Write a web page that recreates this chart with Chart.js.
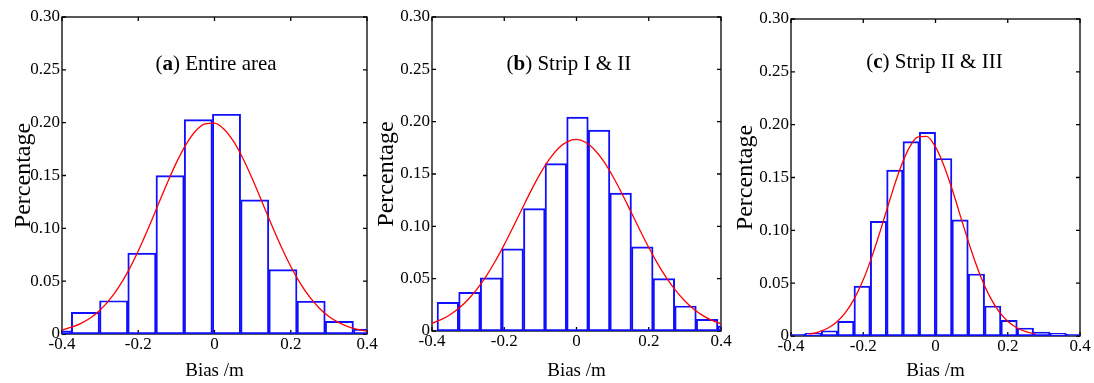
<!DOCTYPE html>
<html>
<head>
<meta charset="utf-8">
<script src="https://cdn.jsdelivr.net/npm/chart.js@4.4.0/dist/chart.umd.min.js"></script>
<style>
  html, body { margin: 0; padding: 0; background: #fff; overflow: hidden; }
  body { width: 1094px; height: 383px; position: relative; }
  .panel { position: absolute; top: 0; }
  canvas { display: block; }
</style>
</head>
<body>
<div class="panel"><canvas id="chart-a"></canvas></div>
<div class="panel"><canvas id="chart-b"></canvas></div>
<div class="panel"><canvas id="chart-c"></canvas></div>
<script>
// Ejes comunes
const xTickValues = [-0.4, -0.2, 0, 0.2, 0.4];
const xTickLabels = ['-0.4', '-0.2', '0', '0.2', '0.4'];
const yTickValues = [0, 0.05, 0.10, 0.15, 0.20, 0.25, 0.30];
const yTickLabels = ['0', '0.05', '0.10', '0.15', '0.20', '0.25', '0.30'];

// (a) Entire area
const binStartA = -0.4495;
const binWidthA = 0.0740;
const heightsA = [0.003, 0.0205, 0.0315, 0.0765, 0.150, 0.203, 0.208, 0.127, 0.061, 0.031, 0.012, 0.0047];
const curveXA = [-0.4, -0.375, -0.35, -0.325, -0.3, -0.275, -0.25, -0.225, -0.2, -0.175, -0.15, -0.125, -0.1, -0.075, -0.05, -0.025, 0,
                 0.025, 0.05, 0.075, 0.1, 0.125, 0.15, 0.175, 0.2, 0.225, 0.25, 0.275, 0.3, 0.325, 0.35, 0.375, 0.4];
const curveYA = [0.0039, 0.0064, 0.0100, 0.0153, 0.0227, 0.0325, 0.0450, 0.0605, 0.0786, 0.0989, 0.1204, 0.1420, 0.1622, 0.1793, 0.1919, 0.1988, 0.1995,
                 0.1938, 0.1822, 0.1659, 0.1462, 0.1248, 0.1031, 0.0825, 0.0639, 0.0479, 0.0348, 0.0244, 0.0166, 0.0110, 0.0070, 0.0043, 0.0026];

// (b) Strip I & II
const binStartB = -0.386;
const binWidthB = 0.0598;
const heightsB = [0.0274, 0.037, 0.0507, 0.0784, 0.117, 0.160, 0.2043, 0.192, 0.1317, 0.0803, 0.050, 0.0239, 0.0112, 0.005];
const curveXB = [-0.4, -0.375, -0.35, -0.325, -0.3, -0.275, -0.25, -0.225, -0.2, -0.175, -0.15, -0.125, -0.1, -0.075, -0.05, -0.025, 0,
                 0.025, 0.05, 0.075, 0.1, 0.125, 0.15, 0.175, 0.2, 0.225, 0.25, 0.275, 0.3, 0.325, 0.35, 0.375, 0.4];
const curveYB = [0.0073, 0.0108, 0.0156, 0.0219, 0.0301, 0.0402, 0.0524, 0.0666, 0.0825, 0.0996, 0.1172, 0.1346, 0.1506, 0.1642, 0.1746, 0.1810, 0.1830,
                 0.1803, 0.1732, 0.1622, 0.1481, 0.1319, 0.1144, 0.0968, 0.0798, 0.0642, 0.0503, 0.0385, 0.0287, 0.0208, 0.0147, 0.0102, 0.0069];

// (c) Strip II & III
const binStartC = -0.4065;
const binWidthC = 0.0452;
const heightsC = [0.0016, 0.0025, 0.005, 0.0139, 0.0473, 0.1085, 0.157, 0.184, 0.1927, 0.168, 0.110, 0.0587, 0.0284, 0.0148, 0.0076, 0.0038, 0.0025, 0.0016];
const curveXC = [-0.35, -0.325, -0.3, -0.275, -0.25, -0.225, -0.2, -0.175, -0.15, -0.125, -0.1, -0.075, -0.05, -0.025, 0,
                 0.025, 0.05, 0.075, 0.1, 0.125, 0.15, 0.175, 0.2, 0.225, 0.25, 0.275];
const curveYC = [0.0018, 0.0037, 0.0071, 0.0128, 0.0218, 0.0351, 0.0532, 0.0761, 0.1026, 0.1304, 0.1563, 0.1766, 0.1882, 0.1890, 0.1790,
                 0.1598, 0.1346, 0.1068, 0.0800, 0.0564, 0.0375, 0.0235, 0.0139, 0.0078, 0.0041, 0.0020];

const SERIF = '"Liberation Serif", "Times New Roman", serif';
const AXIS_W = 62;   // ancho reservado al eje y
const PAD_R = 16;
const H = 383;

const panels = [
    { id: 'chart-a', plot: [62, 367, 17, 334], yTitlePad: 9,
      title: [['(', false], ['a', true], [') Entire area', false]], titleX: 0.004, titleY: 70,
      binStart: binStartA, binWidth: binWidthA, heights: heightsA, curveX: curveXA, curveY: curveYA },
    { id: 'chart-b', plot: [432, 721, 17, 331], yTitlePad: 2,
      title: [['(', false], ['b', true], [') Strip I & II', false]], titleX: -0.021, titleY: 70,
      binStart: binStartB, binWidth: binWidthB, heights: heightsB, curveX: curveXB, curveY: curveYB },
    { id: 'chart-c', plot: [791, 1080, 19, 336], yTitlePad: 2,
      title: [['(', false], ['c', true], [') Strip II & III', false]], titleX: -0.003, titleY: 68,
      binStart: binStartC, binWidth: binWidthC, heights: heightsC, curveX: curveXC, curveY: curveYC }
];

// Marco tipo MATLAB con marcas hacia dentro + título del panel
function framePlugin(p) {
    return {
        id: 'frame-' + p.id,
        beforeDatasetsDraw(chart) {
            const { ctx, chartArea: a, scales: { x, y } } = chart;
            ctx.save();
            ctx.strokeStyle = '#000';
            ctx.lineWidth = 1.3;
            ctx.strokeRect(a.left, a.top, a.right - a.left, a.bottom - a.top);
            ctx.beginPath();
            y.ticks.forEach(t => {
                const py = y.getPixelForValue(t.value);
                ctx.moveTo(a.left, py); ctx.lineTo(a.left + 4, py);
                ctx.moveTo(a.right, py); ctx.lineTo(a.right - 4, py);
            });
            x.ticks.forEach(t => {
                const px = x.getPixelForValue(t.value);
                ctx.moveTo(px, a.top); ctx.lineTo(px, a.top + 4);
                ctx.moveTo(px, a.bottom); ctx.lineTo(px, a.bottom - 4);
            });
            ctx.stroke();
            ctx.restore();
        },
        afterDraw(chart) {
            const { ctx, scales: { x } } = chart;
            ctx.save();
            ctx.fillStyle = '#000';
            ctx.textBaseline = 'alphabetic';
            const fontOf = b => (b ? 'bold ' : '') + '21px ' + SERIF;
            let total = 0;
            p.title.forEach(([t, b]) => { ctx.font = fontOf(b); total += ctx.measureText(t).width; });
            let cx = x.getPixelForValue(p.titleX) - total / 2;
            p.title.forEach(([t, b]) => {
                ctx.font = fontOf(b);
                ctx.fillText(t, cx, p.titleY);
                cx += ctx.measureText(t).width;
            });
            ctx.restore();
        }
    };
}

function makeChart(p) {
    const canvas = document.getElementById(p.id);
    const [pl, pr, pt, pb] = p.plot;
    canvas.parentElement.style.left = (pl - AXIS_W) + 'px';
    canvas.width = AXIS_W + (pr - pl) + PAD_R;
    canvas.height = H;

    const bars = p.heights.map((h, i) => ({ x: p.binStart + (i + 0.5) * p.binWidth, y: h }));
    const curve = p.curveX.map((x, i) => ({ x: x, y: p.curveY[i] }));

    return new Chart(canvas, {
        type: 'bar',
        data: {
            datasets: [
                {
                    type: 'line',
                    data: curve,
                    borderColor: '#ff0000',
                    borderWidth: 1.3,
                    pointRadius: 0,
                    cubicInterpolationMode: 'monotone',
                    order: 0,
                    clip: 0
                },
                {
                    type: 'bar',
                    data: bars,
                    borderColor: '#1010ff',
                    backgroundColor: 'rgba(255,255,255,0)',
                    borderWidth: 1.3,
                    borderSkipped: false,
                    barPercentage: 1,
                    categoryPercentage: 1,
                    order: 1,
                    clip: { left: 0, right: 0, top: 5, bottom: 3 }
                }
            ]
        },
        options: {
            responsive: false,
            animation: false,
            devicePixelRatio: 1,
            layout: { padding: { top: pt, right: PAD_R, bottom: 0, left: 0 } },
            plugins: { legend: { display: false }, tooltip: { enabled: false } },
            scales: {
                x: {
                    type: 'linear',
                    min: -0.4,
                    max: 0.4,
                    offset: false,
                    grid: { display: false, drawTicks: false, offset: false },
                    border: { display: false },
                    afterBuildTicks: s => { s.ticks = xTickValues.map(v => ({ value: v })); },
                    afterFit: s => { s.height = H - pb; },
                    ticks: {
                        padding: 0,
                        color: '#000',
                        autoSkip: false,
                        maxRotation: 0,
                        font: { family: SERIF, size: 17 },
                        callback: (v, i) => xTickLabels[i]
                    },
                    title: {
                        display: true,
                        text: 'Bias /m',
                        color: '#000',
                        font: { family: SERIF, size: 19 },
                        padding: { top: 0, bottom: 1 }
                    }
                },
                y: {
                    min: 0,
                    max: 0.3,
                    grid: { display: false, drawTicks: false },
                    border: { display: false },
                    afterBuildTicks: s => { s.ticks = yTickValues.map(v => ({ value: v })); },
                    afterFit: s => { s.width = AXIS_W; },
                    ticks: {
                        padding: 2,
                        color: '#000',
                        autoSkip: false,
                        font: { family: SERIF, size: 17 },
                        callback: (v, i) => yTickLabels[i]
                    },
                    title: {
                        display: true,
                        text: 'Percentage',
                        color: '#000',
                        font: { family: SERIF, size: 24 },
                        padding: { top: p.yTitlePad, bottom: 0 }
                    }
                }
            }
        },
        plugins: [framePlugin(p)]
    });
}

panels.forEach(makeChart);
</script>
</body>
</html>
